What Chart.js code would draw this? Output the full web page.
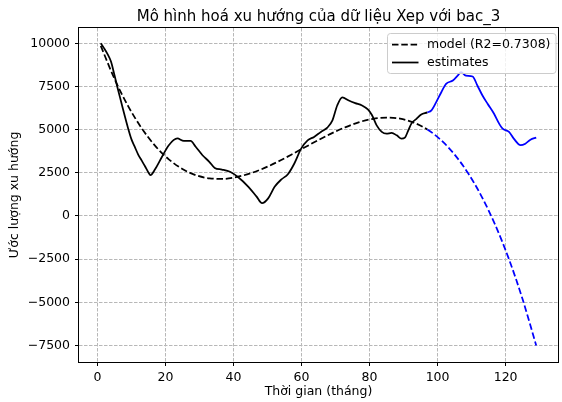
<!DOCTYPE html>
<html>
<head>
<meta charset="utf-8">
<script src="https://cdn.jsdelivr.net/npm/chart.js@4.4.1/dist/chart.umd.min.js"></script>
<style>
  html, body { margin: 0; padding: 0; background: #fff; }
  canvas { display: block; }
</style>
</head>
<body>
<canvas id="chart" width="562" height="402"></canvas>
<script>
// Texts
const titleText = 'Mô hình hoá xu hướng của dữ liệu Xep với bac_3';
const xTitle = 'Thời gian (tháng)';
const yTitle = 'Ước lượng xu hướng';
const modelLabel = 'model (R2=0.7308)';
const estLabel = 'estimates';

// Month from which the series is a forecast (drawn in blue)
const forecastStart = 97;

// Tick values
const xTicks = [0, 20, 40, 60, 80, 100, 120];
const yTicks = [-7500, -5000, -2500, 0, 2500, 5000, 7500, 10000];

// Degree-3 trend model
const modelMonths = [1, 5, 9, 13, 17, 21, 25, 29, 33, 37, 41, 45, 49, 53, 57, 61, 65,
                     69, 73, 77, 81, 85, 89, 93, 97, 101, 105, 109, 113, 117, 121, 125, 129];
const modelValues = [9850, 7960, 6380, 5090, 4060, 3280, 2720, 2360, 2180, 2150, 2260, 2470,
                     2770, 3140, 3550, 3980, 4400, 4800, 5150, 5440, 5630, 5700, 5640, 5410,
                     5010, 4400, 3560, 2470, 1110, -540, -2510, -4830, -7500];

// Trend estimates
const estMonths = [1, 2, 3, 4, 5, 6, 7, 8, 9, 10, 11, 12, 13, 14, 15, 15.6, 17, 19, 21, 23.5,
                   25.4, 27.4, 28.9, 30.9, 32.9, 34.5, 36.6, 39, 41.5, 44.4, 46.8, 48.4, 50.2,
                   52.1, 54.1, 56, 57.9, 59.9, 61.8, 63.7, 65.7, 67.6, 69.1, 70.5, 72, 73.9,
                   75.8, 77.8, 79.5, 80.7, 82.1, 83.6, 85, 86.5, 88, 89.4, 90.4, 91.4, 92.3,
                   93.8, 95.2, 97, 98.2, 99.6, 101.1, 102.5, 104.5, 105.9, 106.9, 108.3, 110.3,
                   111.7, 113.2, 114.7, 116.6, 118.1, 119.1, 121, 122.4, 124.4, 125.8, 127.3, 129];
const estValues = [10000, 9710, 9380, 8950, 8180, 7370, 6600, 5830, 5100, 4450, 4000, 3560,
                   3220, 2880, 2520, 2370, 2720, 3430, 4100, 4490, 4350, 4350, 4010, 3520, 3140,
                   2780, 2690, 2560, 2230, 1690, 1120, 740, 1020, 1690, 2120, 2420, 3040, 3900,
                   4380, 4580, 4870, 5120, 5540, 6400, 6870, 6690, 6540, 6400, 6170, 5850, 5250,
                   4870, 4770, 4810, 4670, 4480, 4540, 4960, 5350, 5630, 5880, 6000, 6120, 6600,
                   7170, 7650, 7850, 8130, 8330, 8130, 8080, 7560, 6980, 6500, 5920, 5350, 5060,
                   4870, 4480, 4100, 4190, 4420, 4540];

const FONT = "'DejaVu Sans', sans-serif";
const BASE_SIZE = 12.5;
const TITLE_SIZE = 15;
const BLACK = '#000000';
const BLUE = '#0000ff';
const GRID = '#b8b8b8';

const toPoints = (xs, ys) => xs.map((x, i) => ({ x: x, y: ys[i] }));
const splitColor = ctx => (ctx.p0.parsed.x >= forecastStart ? BLUE : BLACK);
const fmtY = v => (v < 0 ? '\u2212' + Math.abs(v) : String(v));

// Axes frame, axis titles, chart title and legend
const decorations = {
  id: 'decorations',
  afterDraw(chart) {
    const { ctx, chartArea: a } = chart;
    ctx.save();

    // frame
    ctx.strokeStyle = BLACK;
    ctx.lineWidth = 1;
    ctx.setLineDash([]);
    ctx.strokeRect(Math.round(a.left) - 0.5, Math.round(a.top) - 0.5,
                   Math.round(a.right - a.left) + 1, Math.round(a.bottom - a.top) + 1);

    // title
    ctx.fillStyle = BLACK;
    ctx.font = TITLE_SIZE + 'px ' + FONT;
    ctx.textAlign = 'center';
    ctx.textBaseline = 'alphabetic';
    ctx.fillText(titleText, (a.left + a.right) / 2, 21);

    // axis titles
    ctx.font = BASE_SIZE + 'px ' + FONT;
    ctx.textBaseline = 'middle';
    ctx.fillText(xTitle, (a.left + a.right) / 2, 392);
    ctx.save();
    ctx.translate(15, (a.top + a.bottom) / 2);
    ctx.rotate(-Math.PI / 2);
    ctx.fillText(yTitle, 0, 0);
    ctx.restore();

    // legend
    const bx = 387.5, by = 33.5, bw = 168.5, bh = 40, r = 3;
    ctx.beginPath();
    ctx.moveTo(bx + r, by);
    ctx.arcTo(bx + bw, by, bx + bw, by + bh, r);
    ctx.arcTo(bx + bw, by + bh, bx, by + bh, r);
    ctx.arcTo(bx, by + bh, bx, by, r);
    ctx.arcTo(bx, by, bx + bw, by, r);
    ctx.closePath();
    ctx.fillStyle = 'rgba(255,255,255,0.8)';
    ctx.fill();
    ctx.strokeStyle = '#cccccc';
    ctx.lineWidth = 1;
    ctx.stroke();

    ctx.strokeStyle = BLACK;
    ctx.lineWidth = 1.75;
    ctx.setLineDash([6.5, 2.8]);
    ctx.beginPath();
    ctx.moveTo(392, 44.5);
    ctx.lineTo(418.5, 44.5);
    ctx.stroke();
    ctx.setLineDash([]);
    ctx.beginPath();
    ctx.moveTo(392, 62.5);
    ctx.lineTo(418.5, 62.5);
    ctx.stroke();

    ctx.fillStyle = BLACK;
    ctx.font = BASE_SIZE + 'px ' + FONT;
    ctx.textAlign = 'left';
    ctx.textBaseline = 'middle';
    ctx.fillText(modelLabel, 427, 44.5);
    ctx.fillText(estLabel, 427, 62.5);

    ctx.restore();
  }
};

new Chart(document.getElementById('chart'), {
  type: 'line',
  data: {
    datasets: [
      {
        label: modelLabel,
        data: toPoints(modelMonths, modelValues),
        borderColor: BLACK,
        borderWidth: 1.75,
        borderDash: [6.5, 2.8],
        pointRadius: 0,
        fill: false,
        cubicInterpolationMode: 'monotone',
        segment: { borderColor: splitColor }
      },
      {
        label: estLabel,
        data: toPoints(estMonths, estValues),
        borderColor: BLACK,
        borderWidth: 1.75,
        pointRadius: 0,
        fill: false,
        cubicInterpolationMode: 'monotone',
        segment: { borderColor: splitColor }
      }
    ]
  },
  options: {
    responsive: false,
    animation: false,
    devicePixelRatio: 1,
    layout: { padding: { top: 28, right: 4, left: 0, bottom: 0 } },
    plugins: {
      legend: { display: false },
      title: { display: false },
      tooltip: { enabled: false }
    },
    scales: {
      x: {
        type: 'linear',
        min: -5.4,
        max: 135.4,
        afterBuildTicks: s => { s.ticks = xTicks.map(v => ({ value: v })); },
        afterFit: s => { s.height = 40; },
        grid: { color: GRID, lineWidth: 1, tickLength: 4, tickColor: BLACK, tickWidth: 1, borderDash: [3.5, 1.5] },
        border: { display: false, dash: [3.5, 1.5] },
        ticks: {
          autoSkip: false, maxRotation: 0, padding: 4,
          color: BLACK, font: { family: FONT, size: BASE_SIZE },
          callback: v => String(v)
        }
      },
      y: {
        type: 'linear',
        min: -8460,
        max: 10890,
        afterBuildTicks: s => { s.ticks = yTicks.map(v => ({ value: v })); },
        afterFit: s => { s.width = 79; },
        grid: { color: GRID, lineWidth: 1, tickLength: 4, tickColor: BLACK, tickWidth: 1, borderDash: [3.5, 1.5] },
        border: { display: false, dash: [3.5, 1.5] },
        ticks: {
          autoSkip: false, padding: 5,
          color: BLACK, font: { family: FONT, size: BASE_SIZE },
          callback: v => fmtY(v)
        }
      }
    }
  },
  plugins: [decorations]
});
</script>
</body>
</html>
